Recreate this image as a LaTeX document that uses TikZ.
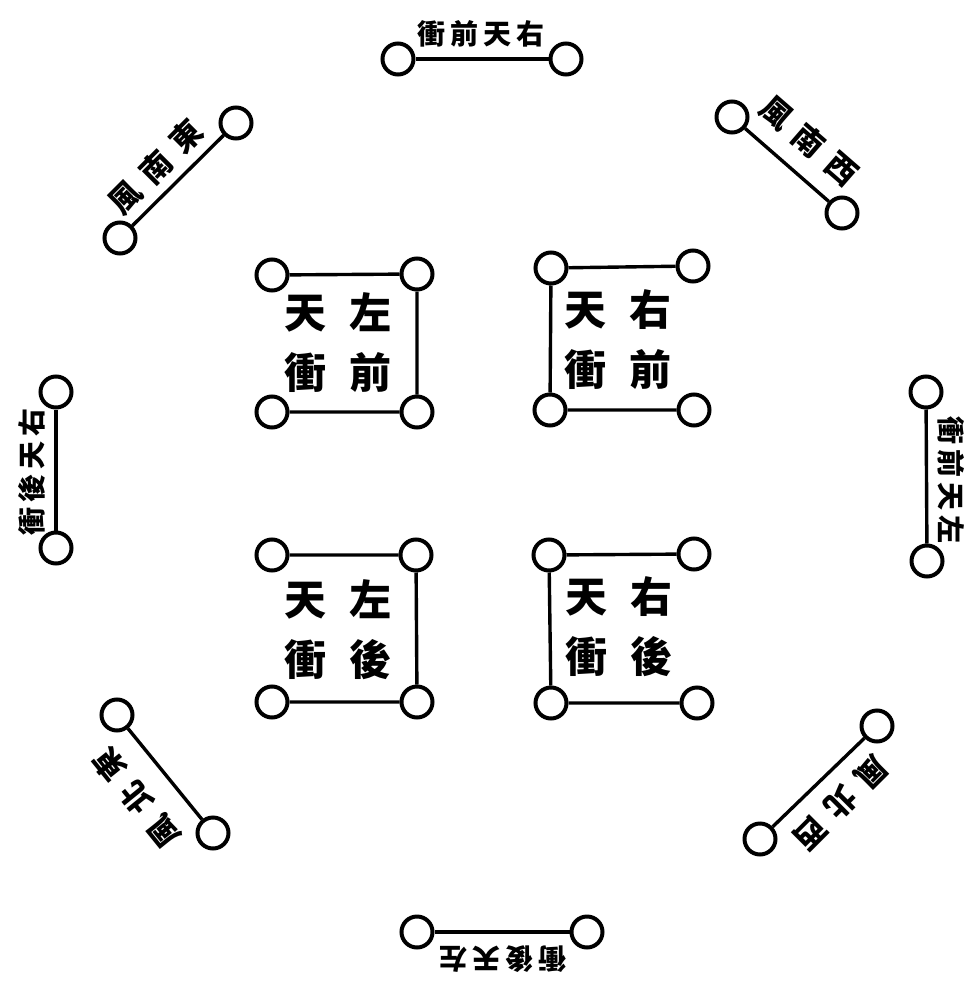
\documentclass[tikz,border=0pt]{standalone}
\usepackage{fontspec}
\newfontfamily\cjk{Noto Sans CJK TC}
\tikzset{
  ring/.style={circle,draw,line width=4pt,minimum size=31pt,inner sep=0pt,fill=white},
  bar/.style={line width=3.4pt},
  outertext/.style={font=\cjk\fontsize{28}{28}\selectfont\bfseries,inner sep=0pt},
  diagtext/.style={font=\cjk\fontsize{31}{31}\selectfont\bfseries,inner sep=0pt},
  innertext/.style={font=\cjk\fontsize{42}{60}\selectfont\bfseries,align=center,inner sep=0pt}
}
\newcommand{\kk}{\kern5pt}
\newcommand{\dk}{\kern12pt}
\newcommand{\KK}{\kern24pt}
\begin{document}
\begin{tikzpicture}[x=1pt,y=-1pt]
\useasboundingbox (0,0) rectangle (973,987);
% ---------- outer ring ----------
% top
\node[ring] (t1) at (398,59) {};
\node[ring] (t2) at (566,59) {};
\draw[bar] (t1) -- (t2);
\node[outertext] (tt) at (481,34) {衝\kk 前\kk 天\kk 右};
% upper right
\node[ring] (ur1) at (732,117) {};
\node[ring] (ur2) at (842,213) {};
\draw[bar] (ur1) -- (ur2);
\node[diagtext,rotate=-41] (urt) at (809,141) {風\dk 南\dk 西};
% right
\node[ring] (r1) at (926,392) {};
\node[ring] (r2) at (927,561) {};
\draw[bar] (r1) -- (r2);
\node[outertext,rotate=-90] (rt) at (951,480) {衝\kk 前\kk 天\kk 左};
% lower right
\node[ring] (lr1) at (877,726) {};
\node[ring] (lr2) at (760,839) {};
\draw[bar] (lr1) -- (lr2);
\node[diagtext,rotate=-135] (lrt) at (841,803) {風\dk 北\dk 西};
% bottom
\node[ring] (b1) at (417,932) {};
\node[ring] (b2) at (587,932) {};
\draw[bar] (b1) -- (b2);
\node[outertext,rotate=180] (bt) at (503,959) {衝\kk 後\kk 天\kk 左};
% lower left
\node[ring] (ll1) at (117,715) {};
\node[ring] (ll2) at (213,833) {};
\draw[bar] (ll1) -- (ll2);
\node[diagtext,rotate=129] (llt) at (137,798) {風\dk 北\dk 東};
% left
\node[ring] (l1) at (56,392) {};
\node[ring] (l2) at (56,548) {};
\draw[bar] (l1) -- (l2);
\node[outertext,rotate=90] (lt) at (32,472) {衝\kk 後\kk 天\kk 右};
% upper left
\node[ring] (ul1) at (120,238) {};
\node[ring] (ul2) at (236,123) {};
\draw[bar] (ul1) -- (ul2);
\node[diagtext,rotate=45] (ult) at (156,167) {風\dk 南\dk 東};
% ---------- inner boxes ----------
% top left
\node[ring] (a1) at (272,275) {};
\node[ring] (a2) at (417,274) {};
\node[ring] (a3) at (272,412) {};
\node[ring] (a4) at (417,412) {};
\draw[bar] (a1) -- (a2) (a2) -- (a4) (a3) -- (a4);
\node[innertext] (at) at (338,343) {天\KK 左\\衝\KK 前};
% top right
\node[ring] (c1) at (551,268) {};
\node[ring] (c2) at (693,266) {};
\node[ring] (c3) at (550,410) {};
\node[ring] (c4) at (694,410) {};
\draw[bar] (c1) -- (c2) (c1) -- (c3) (c3) -- (c4);
\node[innertext] (ct) at (618,340) {天\KK 右\\衝\KK 前};
% bottom left
\node[ring] (d1) at (272,555) {};
\node[ring] (d2) at (416,555) {};
\node[ring] (d3) at (272,702) {};
\node[ring] (d4) at (417,702) {};
\draw[bar] (d1) -- (d2) (d2) -- (d4) (d3) -- (d4);
\node[innertext] (dt) at (338,630) {天\KK 左\\衝\KK 後};
% bottom right
\node[ring] (e1) at (549,555) {};
\node[ring] (e2) at (694,554) {};
\node[ring] (e3) at (551,703) {};
\node[ring] (e4) at (697,703) {};
\draw[bar] (e1) -- (e2) (e1) -- (e3) (e3) -- (e4);
\node[innertext] (et) at (619,627) {天\KK 右\\衝\KK 後};
\end{tikzpicture}
\end{document}
